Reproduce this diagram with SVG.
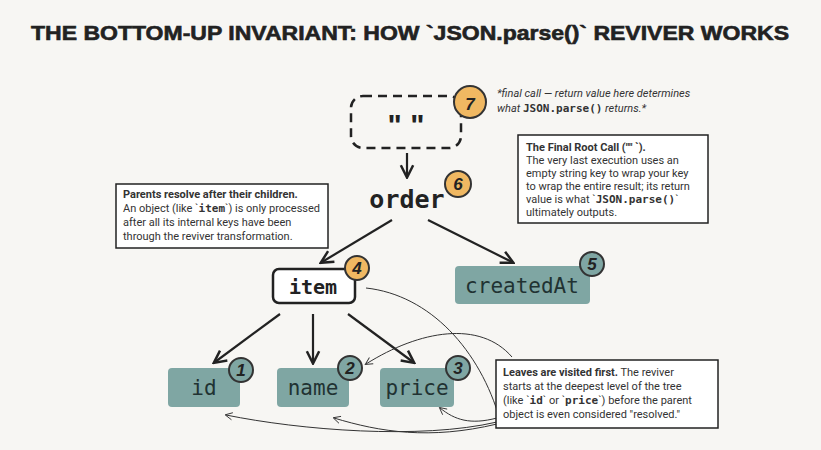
<svg xmlns="http://www.w3.org/2000/svg" width="821" height="450" viewBox="0 0 821 450">
<style>
.t{font-family:"Liberation Sans",Arial,sans-serif;fill:#222}
.m{font-family:"DejaVu Sans Mono","Liberation Mono",monospace}
.note{font-family:Roboto,"Liberation Sans",sans-serif;font-size:11px;fill:#333}
.b{font-weight:bold}
.leaf{fill:#7fa6a3}
.lt{font-family:"DejaVu Sans Mono","Liberation Mono",monospace;font-size:21px;fill:#213232}
.bo{fill:#f0b862;stroke:#333;stroke-width:2}
.bt{fill:#7fa6a3;stroke:#333;stroke-width:2}
.bn{font-family:"Liberation Sans",sans-serif;font-style:italic;font-weight:bold;font-size:17px;fill:#222;text-anchor:middle}
.ar{stroke:#222;stroke-width:2.2;fill:none;marker-end:url(#a)}
.thin{stroke:#333;stroke-width:1;fill:none}
.box{fill:#fff;stroke:#222;stroke-width:1.5}
</style>
<defs>
<marker id="a" viewBox="0 0 10 10" refX="8" refY="5" markerWidth="7" markerHeight="7" orient="auto"><path d="M1,1 L9,5 L1,9" fill="none" stroke="#222" stroke-width="1.6"/></marker>
<marker id="s" viewBox="0 0 10 10" refX="8" refY="5" markerWidth="9" markerHeight="9" orient="auto"><path d="M1,1 L9,5 L1,9" fill="none" stroke="#333" stroke-width="1"/></marker>
</defs>
<rect width="821" height="450" fill="#f7f6f3"/>
<text class="t b" x="31" y="40" font-size="20" textLength="758" lengthAdjust="spacingAndGlyphs" stroke="#222" stroke-width="0.6">THE BOTTOM-UP INVARIANT: HOW `JSON.parse()` REVIVER WORKS</text>

<g id="connectors">
<path class="ar" d="M407,153 L407,176"/>
<path class="ar" d="M392,220 L322,262"/>
<path class="ar" d="M428,220 L512,262"/>
<path class="ar" d="M280,314 L215,362"/>
<path class="ar" d="M313,314 L313,362"/>
<path class="ar" d="M348,314 L413,362"/>
<path class="thin" d="M366,288 C430,295 480,350 500,420"/>
<path class="thin" d="M512,357 C480,320 420,330 366,364" marker-end="url(#s)"/>
<path class="thin" d="M497,422 C420,440 300,430 226,415" marker-end="url(#s)"/>
<path class="thin" d="M497,424 C430,440 380,432 334,418" marker-end="url(#s)"/>
<path class="thin" d="M497,418 C470,425 455,420 440,408" marker-end="url(#s)"/>
</g>

<g id="root">
<rect x="351" y="96" width="110" height="52" rx="12" fill="none" stroke="#222" stroke-width="2.5" stroke-dasharray="9,6"/>
<text class="t b" x="406" y="135" font-size="30" text-anchor="middle">" "</text>
<circle class="bo" cx="470" cy="102" r="16"/><text class="bn" x="470" y="110" font-size="22">7</text>
</g>
<g id="note-final">
<text class="note" font-style="italic" x="497" y="97" font-size="12">*final call — return value here determines</text>
<text class="note" font-style="italic" x="497" y="112" font-size="12">what <tspan class="m b" font-style="normal">JSON.parse()</tspan> returns.*</text>
</g>
<g id="order">
<text class="m b" x="407" y="208" font-size="25" text-anchor="middle" fill="#222">order</text>
<circle class="bo" cx="458" cy="184" r="13"/><text class="bn" x="458" y="190">6</text>
</g>
<g id="box-root">
<rect class="box" x="518" y="135" width="190" height="88"/>
<text class="note" x="526" y="151"><tspan class="b">The Final Root Call ("" `).</tspan></text>
<text class="note" x="526" y="164">The very last execution uses an</text>
<text class="note" x="526" y="177">empty string key to wrap your key</text>
<text class="note" x="526" y="190">to wrap the entire result; its return</text>
<text class="note" x="526" y="203">value is what `<tspan class="m b">JSON.parse()</tspan>`</text>
<text class="note" x="526" y="216">ultimately outputs.</text>
</g>
<g id="box-parents">
<rect class="box" x="116" y="184" width="212" height="64"/>
<text class="note" x="123" y="198"><tspan class="b">Parents resolve after their children.</tspan></text>
<text class="note" x="123" y="212">An object (like `<tspan class="m b">item</tspan>`) is only processed</text>
<text class="note" x="123" y="226">after all its internal keys have been</text>
<text class="note" x="123" y="240">through the reviver transformation.</text>
</g>
<g id="item">
<rect x="273" y="269" width="82" height="34" rx="6" fill="#fff" stroke="#222" stroke-width="2.5"/>
<text class="m b" x="313" y="294" font-size="20" text-anchor="middle" fill="#222">item</text>
<circle class="bo" cx="357" cy="268" r="12"/><text class="bn" x="357" y="274">4</text>
</g>
<g id="createdAt">
<rect class="leaf" x="455" y="266" width="135" height="38" rx="4"/>
<text class="lt" x="522" y="293" text-anchor="middle">createdAt</text>
<circle class="bt" cx="592" cy="264" r="12"/><text class="bn" x="592" y="270">5</text>
</g>
<g id="id">
<rect class="leaf" x="168" y="368" width="72" height="39" rx="4"/>
<text class="lt" x="204" y="395" text-anchor="middle">id</text>
<circle class="bt" cx="241" cy="370" r="12"/><text class="bn" x="241" y="376">1</text>
</g>
<g id="name">
<rect class="leaf" x="277" y="368" width="72" height="39" rx="4"/>
<text class="lt" x="313" y="395" text-anchor="middle">name</text>
<circle class="bt" cx="350" cy="368" r="12"/><text class="bn" x="350" y="374">2</text>
</g>
<g id="price">
<rect class="leaf" x="380" y="368" width="74" height="39" rx="4"/>
<text class="lt" x="417" y="395" text-anchor="middle">price</text>
<circle class="bt" cx="458" cy="368" r="12"/><text class="bn" x="458" y="374">3</text>
</g>
<g id="box-leaves">
<rect class="box" x="496" y="360" width="222" height="68"/>
<text class="note" x="503" y="376"><tspan class="b">Leaves are visited first.</tspan> The reviver</text>
<text class="note" x="503" y="390">starts at the deepest level of the tree</text>
<text class="note" x="503" y="404">(like `<tspan class="m b">id</tspan>` or `<tspan class="m b">price</tspan>`) before the parent</text>
<text class="note" x="503" y="418">object is even considered "resolved."</text>
</g>
</svg>
